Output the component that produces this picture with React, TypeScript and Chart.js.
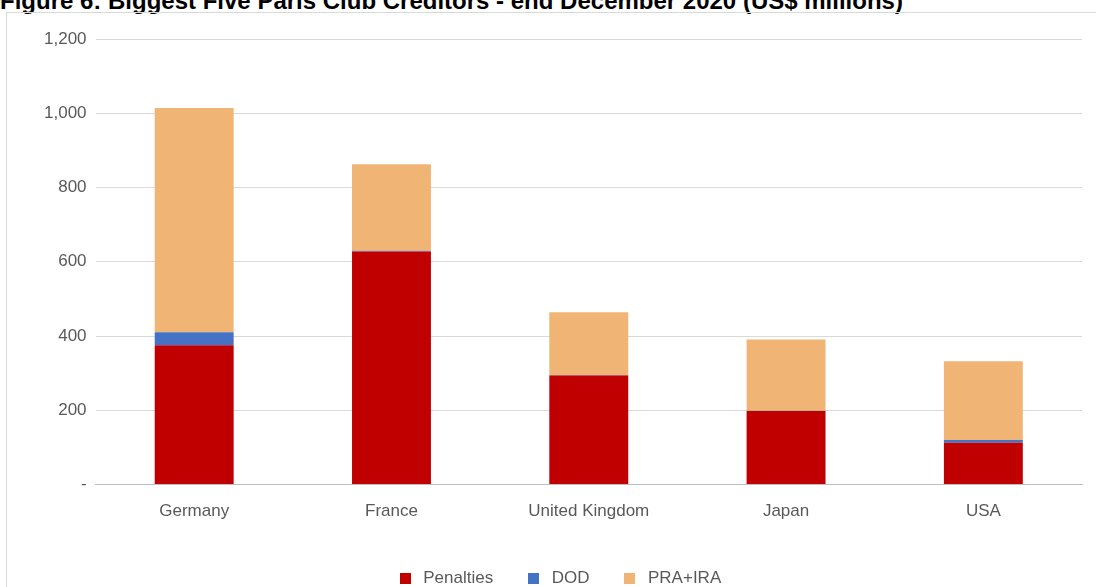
import React, { useEffect, useRef } from "react";
import { Chart, registerables } from "chart.js";

Chart.register(...registerables);

const categories = ["Germany", "France", "United Kingdom", "Japan", "USA"];
const penalties = [375, 628, 294, 198, 113];
const dod = [35, 2, 1, 1, 7];
const praIra = [604, 233, 169, 192, 212];
const seriesNames = ["Penalties", "DOD", "PRA+IRA"];
const seriesColors = ["#C00000", "#4472C4", "#F0B474"];
const yMax = 1200;
const yStep = 200;

function swatch(color: string): HTMLCanvasElement {
  const c = document.createElement("canvas");
  c.width = 11;
  c.height = 11;
  const g = c.getContext("2d");
  if (g) {
    g.fillStyle = color;
    g.fillRect(0, 0, 11, 11);
  }
  return c;
}

export default function App() {
  const ref = useRef<HTMLCanvasElement | null>(null);
  useEffect(() => {
    if (!ref.current) return;
    const font = "'Liberation Sans', Arial, sans-serif";
    const swatches = seriesColors.map(swatch);
    const chart = new Chart(ref.current, {
      type: "bar",
      data: {
        labels: categories,
        datasets: [penalties, dod, praIra].map((d, i) => ({
          label: seriesNames[i],
          data: d,
          backgroundColor: seriesColors[i],
          borderWidth: 0,
          categoryPercentage: 1,
          barPercentage: 0.4,
        })),
      },
      options: {
        animation: false,
        responsive: false,
        maintainAspectRatio: false,
        layout: { padding: { left: 28, right: 14, top: 26, bottom: 0 } },
        plugins: {
          title: { display: false },
          tooltip: { enabled: false },
          legend: {
            position: "bottom",
            labels: {
              usePointStyle: true,
              pointStyleWidth: 19,
              boxHeight: 11,
              padding: 31,
              color: "#595959",
              font: { family: font, size: 17 },
              generateLabels: (c: any) =>
                Chart.defaults.plugins.legend.labels
                  .generateLabels(c)
                  .map((it: any, i: number) => ({ ...it, pointStyle: swatches[i] })),
            },
          },
        },
        scales: {
          x: {
            stacked: true,
            grid: { display: false, drawTicks: false },
            border: { color: "#BFBFBF", width: 1 },
            ticks: { color: "#595959", font: { family: font, size: 17 }, padding: 17 },
          },
          y: {
            stacked: true,
            min: 0,
            max: yMax,
            grid: { color: "#D9D9D9", drawTicks: false },
            border: { display: false },
            ticks: {
              stepSize: yStep,
              padding: 9,
              color: "#595959",
              font: { family: font, size: 17 },
              callback: (v: any) => (Number(v) === 0 ? "-" : Number(v).toLocaleString("en-US")),
            },
          },
        },
      },
    });
    return () => chart.destroy();
  }, []);

  return (
    <div style={{ position: "fixed", left: 0, top: 0, width: 1096, height: 587, overflow: "hidden", background: "#fff" }}>
      <div
        style={{
          position: "absolute",
          left: 0,
          top: -11,
          fontFamily: "'Liberation Sans', Arial, sans-serif",
          fontWeight: "bold",
          fontSize: 24,
          lineHeight: "24px",
          whiteSpace: "nowrap",
          color: "#000",
        }}
      >
        Figure 6: Biggest Five Paris Club Creditors - end December 2020 (US$ millions)
      </div>
      <div
        style={{
          position: "absolute",
          left: 6,
          top: 12,
          width: 1200,
          height: 700,
          border: "1px solid #D9D9D9",
        }}
      >
        <canvas ref={ref} width={1089} height={584} style={{ display: "block" }} />
      </div>
    </div>
  );
}
